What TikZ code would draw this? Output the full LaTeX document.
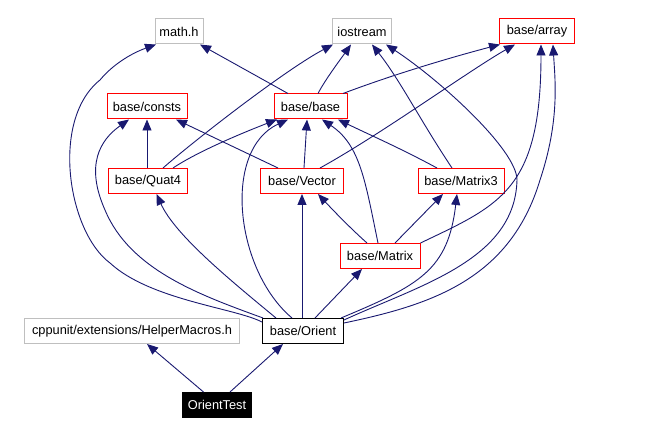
\documentclass[tikz,border=0pt]{standalone}
\usepackage{fontspec}
\setmainfont{Liberation Sans}
\usetikzlibrary{arrows.meta}
\definecolor{edgeblue}{RGB}{25,25,112}
\definecolor{boxgray}{RGB}{191,191,191}

\begin{document}
\begin{tikzpicture}[x=1pt, y=-1pt, >={Triangle[length=11pt,width=9pt]},
    file/.style={draw, rectangle, minimum height=25pt, inner sep=0pt, line width=1pt,
                 font=\fontsize{12.8}{14}\selectfont},
    found/.style={file, draw=red},
    missing/.style={file, draw=boxgray},
    dep/.style={->, draw=edgeblue, line width=0.9pt}]

    \useasboundingbox (0,0) rectangle (662,435);

    % --- Headers (top row) ---
    \node[missing, minimum width=48pt] (mathh)    at (179,31.5) {math.h};
    \node[missing, minimum width=59pt] (iostream) at (362,31.5) {iostream};
    \node[found,   minimum width=75pt] (array)    at (537,31.5) {base/array};

    % --- base/consts and base/base ---
    \node[found, minimum width=80pt] (consts) at (147,106.5) {base/consts};
    \node[found, minimum width=73pt] (base)   at (310.5,106.5) {base/base};

    % --- Quat4, Vector, Matrix3 ---
    \node[found, minimum width=79pt] (quat)        at (148,181) {base/Quat4};
    \node[found, minimum width=83pt] (vector)      at (302,181) {base/Vector};
    \node[found, minimum width=86pt] (matrixthree) at (461,181) {base/Matrix3};

    % --- Matrix ---
    \node[found, minimum width=80pt] (matrix) at (380,256) {base/Matrix};

    % --- HelperMacros.h and base/Orient ---
    \node[missing, minimum width=215pt] (helper) at (132,331) {cppunit/extensions/HelperMacros.h};
    \node[file,    minimum width=81pt]  (orient) at (303,331) {base/Orient};

    % --- OrientTest ---
    \node[file, fill=black, text=white, minimum width=69pt] (test) at (217,405) {OrientTest};

    % --- OrientTest includes ---
    \draw[dep] ([xshift=-13.5pt]test.north) -- ([xshift=15pt]helper.south);
    \draw[dep] ([xshift=13pt]test.north) -- ([xshift=-20pt]orient.south);

    % --- base/Orient includes ---
    \draw[dep] ([yshift=-4pt]orient.north west) .. controls (235,308) and (150,300) .. (110,263)
               .. controls (68,232) and (50,120) .. (100,80)
               .. controls (115,62) and (135,52) .. ([xshift=-23pt]mathh.south);
    \draw[dep] ([xshift=1pt]orient.north west) .. controls (200,295) and (130,270) .. (105,210)
               .. controls (85,165) and (100,140) .. ([xshift=-18pt]consts.south);
    \draw[dep] ([xshift=-27pt]orient.north) .. controls (230,280) and (175,235) .. ([xshift=8.5pt]quat.south);
    \draw[dep] ([xshift=-11pt]orient.north) .. controls (235,270) and (222,150) .. ([xshift=-22.5pt]base.south);
    \draw[dep] ([xshift=-1pt]orient.north) -- (vector.south);
    \draw[dep] ([xshift=12pt]orient.north) -- ([xshift=-18pt]matrix.south);
    \draw[dep] ([xshift=-3pt]orient.north east) .. controls (420,285) and (448,270) .. ([xshift=-4pt]matrixthree.south);
    \draw[dep] ([yshift=-2pt]orient.north east) .. controls (420,285) and (515,260) .. (517,180)
               .. controls (517,150) and (440,80) .. ([xshift=24pt]iostream.south);
    \draw[dep] ([yshift=-5pt]orient.north east) .. controls (430,305) and (510,280) .. (540,180)
               .. controls (560,120) and (555,80) .. ([xshift=16pt]array.south);

    % --- base/Quat4 includes ---
    \draw[dep] ([xshift=-1pt]quat.north) -- (consts.south);
    \draw[dep] ([xshift=25pt]quat.north) .. controls (200,150) and (250,130) .. ([xshift=-33.5pt]base.south);
    \draw[dep] ([xshift=15pt]quat.north) .. controls (195,140) and (285,70) .. ([xshift=-29pt]iostream.south);

    % --- base/base includes ---
    \draw[dep] ([xshift=-22.5pt]base.north) -- ([xshift=21pt]mathh.south);
    \draw[dep] ([xshift=7.5pt]base.north) .. controls (325,80) and (340,60) .. ([xshift=-11pt]iostream.south);
    \draw[dep] ([xshift=32.5pt]base.north) .. controls (400,72) and (460,55) .. ([xshift=-37pt]array.south);

    % --- base/Vector includes ---
    \draw[dep] ([xshift=-24pt]vector.north) -- ([xshift=29pt]consts.south);
    \draw[dep] ([xshift=2pt]vector.north) -- ([xshift=-3.5pt]base.south);
    \draw[dep] ([xshift=18pt]vector.north) .. controls (380,135) and (470,70) .. ([xshift=-22pt]array.south);

    % --- base/Matrix3 includes ---
    \draw[dep] ([xshift=-24pt]matrixthree.north) .. controls (400,148) and (370,135) .. ([xshift=27.5pt]base.south);
    \draw[dep] ([xshift=-9pt]matrixthree.north) .. controls (420,120) and (400,80) .. ([xshift=10pt]iostream.south);

    % --- base/Matrix includes ---
    \draw[dep] ([xshift=-13pt]matrix.north) .. controls (350,228) and (330,207) .. ([xshift=16pt]vector.south);
    \draw[dep] ([xshift=-2pt]matrix.north) .. controls (365,180) and (360,145) .. ([xshift=11.5pt]base.south);
    \draw[dep] ([xshift=15pt]matrix.north) -- ([xshift=-18pt]matrixthree.south);
    \draw[dep] (matrix.north east) .. controls (500,205) and (541,190) .. ([xshift=4pt]array.south);

\end{tikzpicture}
\end{document}
